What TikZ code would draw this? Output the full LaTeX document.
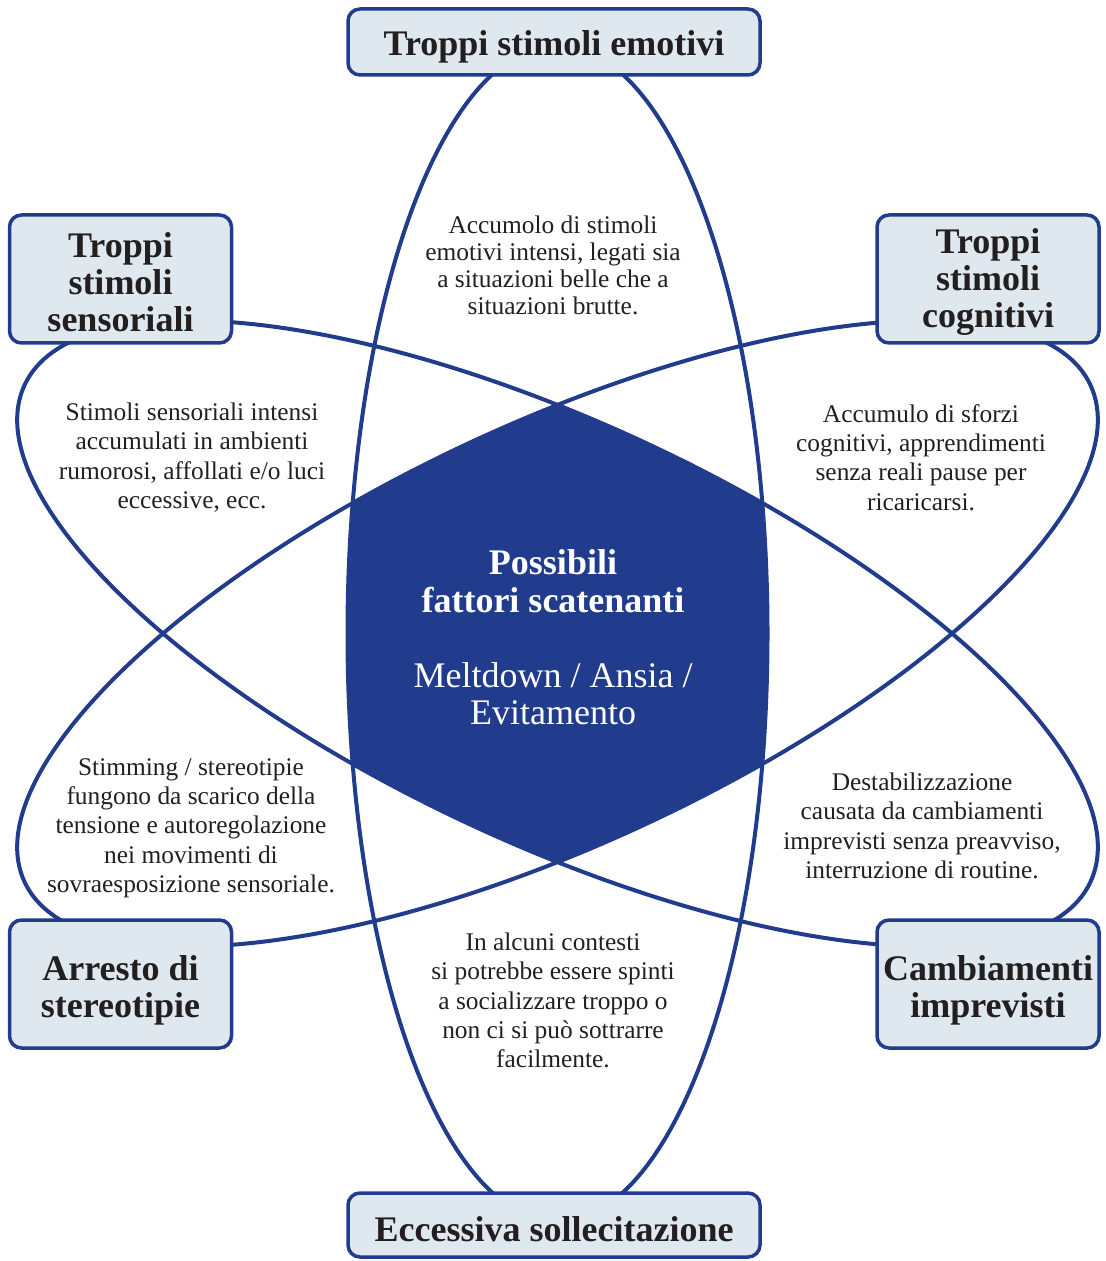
\documentclass[tikz,border=0pt]{standalone}
\usepackage{fontspec}
\setmainfont{Liberation Serif}
\usepackage{xcolor}
\usepackage{tikz}
\usetikzlibrary{positioning,calc,shapes}

\definecolor{orbitblue}{RGB}{33,59,141}
\definecolor{boxfill}{RGB}{222,232,238}
\definecolor{inkdark}{RGB}{35,31,32}
\newcommand{\titledrop}[1]{\rule{0pt}{#1}}

\begin{document}
\begin{tikzpicture}[x=0.5pt, y=-0.5pt,
        orbit/.style={draw=orbitblue, line width=2pt},
        trigger/.style={draw=orbitblue, line width=1.75pt, fill=boxfill, rounded corners=6pt,
            align=center, text=inkdark, inner sep=0pt, font=\fontsize{18}{18.5}\selectfont\bfseries},
        note/.style={align=center, text=inkdark, inner sep=0pt, font=\fontsize{12.7}{14.65}\selectfont},
        core/.style={align=center, text=white, inner sep=0pt}]
        \useasboundingbox (0,0) rectangle (1105,1261);
        \coordinate (c) at (557.5,633.5);

        % three orbits
        \draw[orbit] (c) ellipse [x radius=210, y radius=588];
        \draw[orbit, rotate around={65:(c)}] (c) ellipse [x radius=210, y radius=588];
        \draw[orbit, rotate around={-65:(c)}] (c) ellipse [x radius=210, y radius=588];

        % core = overlap of the three
        \begin{scope}
            \clip[rotate around={65:(c)}] (c) ellipse [x radius=210, y radius=588];
            \clip[rotate around={-65:(c)}] (c) ellipse [x radius=210, y radius=588];
            \fill[orbitblue] (c) ellipse [x radius=210, y radius=588];
        \end{scope}

        \node[core, font=\fontsize{18}{19}\selectfont\bfseries] (fattori) at (553,581) {Possibili\\fattori scatenanti};
        \node[core, font=\fontsize{18}{18.5}\selectfont] (esiti) at (553,693.5) {Meltdown / Ansia /\\Evitamento};

        \node[trigger, minimum width=206pt, minimum height=33pt] (emotivi) at (554,42) {\titledrop{17pt}Troppi stimoli emotivi};
        \node[trigger, minimum width=111pt, minimum height=64pt] (sensoriali) at (120.5,279) {\titledrop{15.5pt}Troppi\\stimoli\\sensoriali};
        \node[trigger, minimum width=111pt, minimum height=64pt] (cognitivi) at (988,279) {\titledrop{15.5pt}Troppi\\stimoli\\cognitivi};
        \node[trigger, minimum width=111pt, minimum height=64pt] (stereotipie) at (120.5,984) {\titledrop{18.5pt}Arresto di\\stereotipie};
        \node[trigger, minimum width=111pt, minimum height=64pt] (imprevisti) at (988,984) {\titledrop{18.5pt}Cambiamenti\\imprevisti};
        \node[trigger, minimum width=206pt, minimum height=32pt] (sollecitazione) at (554,1225) {\titledrop{17pt}Eccessiva sollecitazione};

        \node[note, font=\fontsize{12.7}{13.5}\selectfont] (notaEmotivi) at (553,265) {Accumolo di stimoli\\emotivi intensi, legati sia\\a situazioni belle che a\\situazioni brutte.};
        \node[note] (notaSensoriali) at (192,457.5) {Stimoli sensoriali intensi\\accumulati in ambienti\\rumorosi, affollati e/o luci\\eccessive, ecc.};
        \node[note] (notaCognitivi) at (921,457.5) {Accumulo di sforzi\\cognitivi, apprendimenti\\senza reali pause per\\ricaricarsi.};
        \node[note] (notaStereotipie) at (191,828) {Stimming / stereotipie\\fungono da scarico della\\tensione e autoregolazione\\nei movimenti di\\sovraesposizione sensoriale.};
        \node[note] (notaImprevisti) at (922,826) {Destabilizzazione\\causata da cambiamenti\\imprevisti senza preavviso,\\interruzione di routine.};
        \node[note] (notaSollecitazione) at (553,1000.5) {In alcuni contesti\\si potrebbe essere spinti\\a socializzare troppo o\\non ci si può sottrarre\\facilmente.};
    \end{tikzpicture}
\end{document}
